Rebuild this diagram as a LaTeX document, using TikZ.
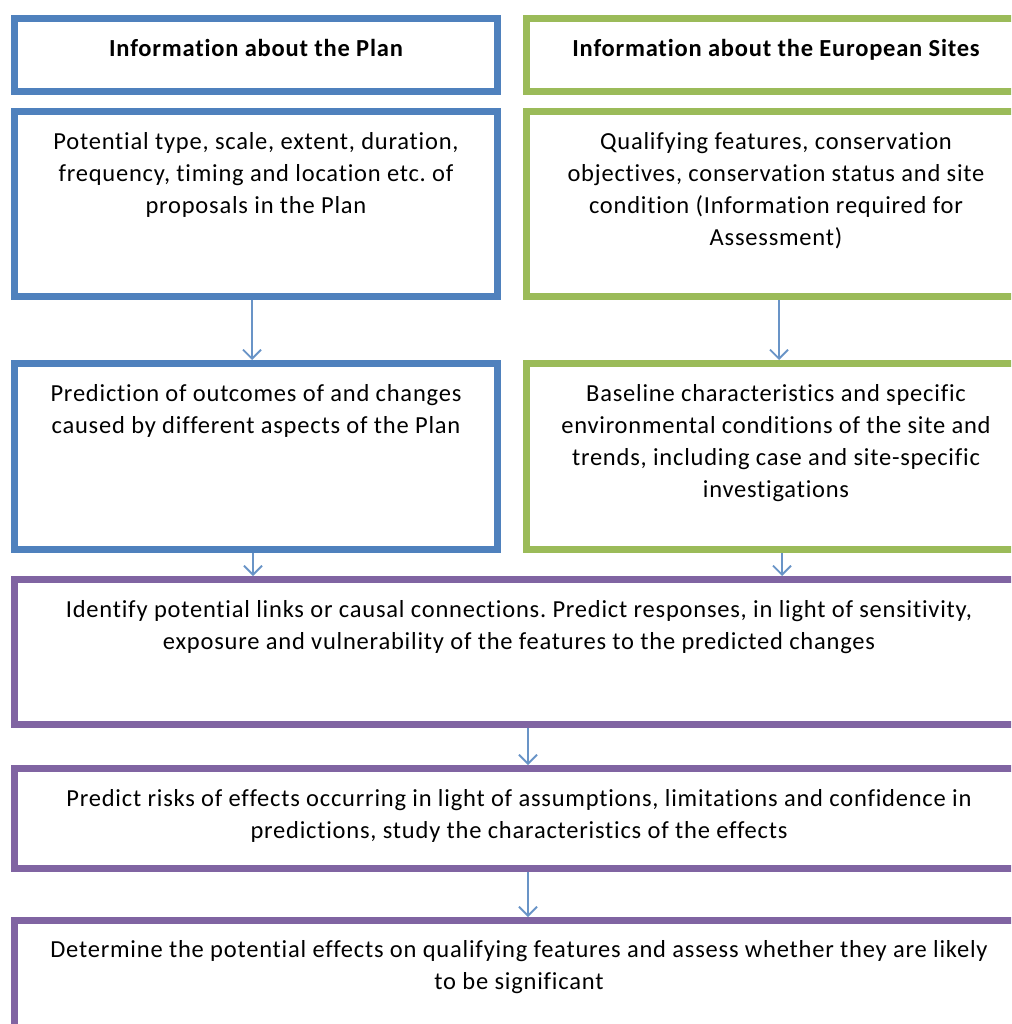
\documentclass[tikz,border=0pt]{standalone}
\usepackage{fontspec}
\setmainfont{Carlito}[Ligatures=NoCommon, LetterSpace=3.2]
\frenchspacing
\usetikzlibrary{arrows.meta}
\definecolor{planblue}{HTML}{4F81BD}
\definecolor{sitegreen}{HTML}{9BBB59}
\definecolor{stagepurple}{HTML}{8064A2}
\begin{document}
\begin{tikzpicture}[x=1pt,y=-1pt,
  frame/.style={draw, line width=7pt, fill=white, inner sep=0pt, anchor=north west},
  body/.style={font=\fontsize{24.5}{32}\selectfont, align=center, inner sep=0pt, anchor=north},
  head/.style={body, font=\fontsize{24.5}{32}\selectfont\bfseries},
  flow/.style={draw=planblue!85, line width=1.8pt, -{Straight Barb[length=9pt,width=18pt,line width=1.8pt]}}]
\useasboundingbox (0,0) rectangle (1011,1024);
\clip (0,0) rectangle (1011,1024);

% boxes (outer corner, path size = outer size - line width)
\node[frame, draw=planblue, minimum width=483pt, minimum height=73pt] (planhead) at (11,15) {};
\node[frame, draw=sitegreen, minimum width=500pt, minimum height=73pt] (sitehead) at (523,15) {};
\node[frame, draw=planblue, minimum width=483pt, minimum height=185pt] (plantype) at (11,108) {};
\node[frame, draw=sitegreen, minimum width=500pt, minimum height=185pt] (sitefeat) at (523,108) {};
\node[frame, draw=planblue, minimum width=483pt, minimum height=186pt] (planpred) at (11,360) {};
\node[frame, draw=sitegreen, minimum width=500pt, minimum height=186pt] (sitebase) at (523,360) {};
\node[frame, draw=stagepurple, minimum width=1012pt, minimum height=145pt] (links) at (11,576) {};
\node[frame, draw=stagepurple, minimum width=1012pt, minimum height=100pt] (risks) at (11,765) {};
\node[frame, draw=stagepurple, minimum width=1012pt, minimum height=140pt] (effects) at (11,917) {};

% texts
\node[head] (planheadtxt) at (256,39) {Information about the Plan};
\node[head] (siteheadtxt) at (776,39) {Information about the European Sites};
\node[body] (plantypetxt) at (256,132) {Potential type, scale, extent, duration,\\frequency, timing and location etc. of\\proposals in the Plan};
\node[body] (sitefeattxt) at (776,132) {Qualifying features, conservation\\objectives, conservation status and site\\condition (Information required for\\Assessment)};
\node[body] (planpredtxt) at (256,384) {Prediction of outcomes of and changes\\caused by different aspects of the Plan};
\node[body] (sitebasetxt) at (776,384) {Baseline characteristics and specific\\environmental conditions of the site and\\trends, including case and site-specific\\investigations};
\node[body] (linkstxt) at (519,600) {Identify potential links or causal connections. Predict responses, in light of sensitivity,\\exposure and vulnerability of the features to the predicted changes};
\node[body] (riskstxt) at (519,789) {Predict risks of effects occurring in light of assumptions, limitations and confidence in\\predictions, study the characteristics of the effects};
\node[body] (effectstxt) at (519,940) {Determine the potential effects on qualifying features and assess whether they are likely\\to be significant};

% connectors
\draw[flow] (plantype.south -| 252,0) -- (planpred.north -| 252,0);
\draw[flow] (sitefeat.south -| 779,0) -- (sitebase.north -| 779,0);
\draw[flow] (planpred.south -| 253,0) -- (links.north -| 253,0);
\draw[flow] (sitebase.south -| 782,0) -- (links.north -| 782,0);
\draw[flow] (links.south -| 528,0) -- (risks.north -| 528,0);
\draw[flow] (risks.south -| 528,0) -- (effects.north -| 528,0);
\end{tikzpicture}
\end{document}
